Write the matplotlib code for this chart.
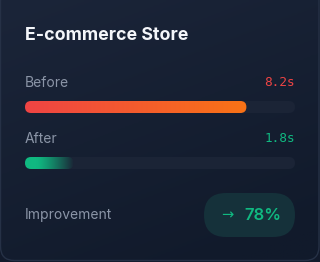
import numpy as np
import matplotlib
matplotlib.use("Agg")
import matplotlib.pyplot as plt
from matplotlib.patches import FancyBboxPatch
from matplotlib.colors import to_rgb

title = "E-commerce Store"
categories = ["Before", "After"]
values = [8.2, 1.8]
value_labels = ["8.2s", "1.8s"]
scale_max = 10.0
improvement_label = "Improvement"
improvement = 78

W, H = 320, 262
fig = plt.figure(figsize=(W / 100, H / 100), dpi=100)
fig.patch.set_facecolor("#121a2b")
ax = fig.add_axes([0, 0, 1, 1])
ax.set_xlim(0, W)
ax.set_ylim(H, 0)
ax.axis("off")

# card background with diagonal gradient
card = FancyBboxPatch((0.5, -14), W - 1.5, H - 1.5 + 14, boxstyle="round,pad=0,rounding_size=14",
                      facecolor="none", edgecolor="#263146", linewidth=1.0, zorder=3)
ax.add_patch(card)
c1, c2 = np.array(to_rgb("#1b2539")), np.array(to_rgb("#111a2b"))
yy, xx = np.mgrid[0:1:100j, 0:1:100j]
t = np.clip(0.35 * xx + 0.75 * yy, 0, 1)[..., None]
img = c1 * (1 - t) + c2 * t
im = ax.imshow(img, extent=(0, W, H, 0), zorder=1, aspect="auto")
im.set_clip_path(card)

ax.text(25, 35, title, color="#f4f6fa", fontsize=12.8, fontweight="bold",
        family="Inter", va="center", ha="left", zorder=5)

x0, x1 = 25, 295
bar_h = 12
label_y = [83, 139]
bar_y = [101, 157]
grads = [("#ef4444", "#f97316"), ("#10b981", "#10b981")]
val_colors = ["#ef4444", "#10b981"]

for i, cat in enumerate(categories):
    ax.text(x0, label_y[i], cat, color="#8b95a7", fontsize=10, family="Inter",
            va="center", ha="left", zorder=5)
    ax.text(x1, label_y[i], value_labels[i], color=val_colors[i], fontsize=9.2,
            family="DejaVu Sans Mono", va="center", ha="right", zorder=5)
    track = FancyBboxPatch((x0, bar_y[i]), x1 - x0, bar_h,
                           boxstyle=f"round,pad=0,rounding_size={bar_h/2}",
                           facecolor="#1b2436", edgecolor="none", zorder=4)
    ax.add_patch(track)
    fw = (x1 - x0) * values[i] / scale_max
    fill = FancyBboxPatch((x0, bar_y[i]), fw, bar_h,
                          boxstyle=f"round,pad=0,rounding_size={bar_h/2}",
                          facecolor="none", edgecolor="none", zorder=5)
    ax.add_patch(fill)
    ca, cb = grads[i]
    s = np.linspace(0, 1, 200)[None, :, None]
    rgb = np.array(to_rgb(ca)) * (1 - s) + np.array(to_rgb(cb)) * s
    if i == 1:
        a = np.clip(1 - np.clip((s - 0.25) / 0.75, 0, 1) ** 1.2, 0, 1)
    else:
        a = np.ones_like(s)
    rgba = np.concatenate([rgb, a], axis=2)
    gim = ax.imshow(rgba, extent=(x0, x0 + fw, bar_y[i] + bar_h, bar_y[i]),
                    zorder=6, aspect="auto")
    gim.set_clip_path(fill)

ax.set_xlim(0, W)
ax.set_ylim(H, 0)

ax.text(x0, 215, improvement_label, color="#8b95a7", fontsize=10, family="Inter",
        va="center", ha="left", zorder=5)
pill = FancyBboxPatch((204, 193), 91, 44, boxstyle="round,pad=0,rounding_size=22",
                      facecolor="#15313a", edgecolor="none", zorder=4)
ax.add_patch(pill)
ax.text(227.5, 214.5, "→", color="#10b981", fontsize=10.5, family="DejaVu Sans",
        va="center", ha="center", zorder=5)
ax.text(244, 215, f"{improvement}%", color="#10b981", fontsize=12, fontweight="semibold",
        family="Inter", va="center", ha="left", zorder=5)

fig.savefig("out.png", dpi=100, facecolor=fig.get_facecolor())
